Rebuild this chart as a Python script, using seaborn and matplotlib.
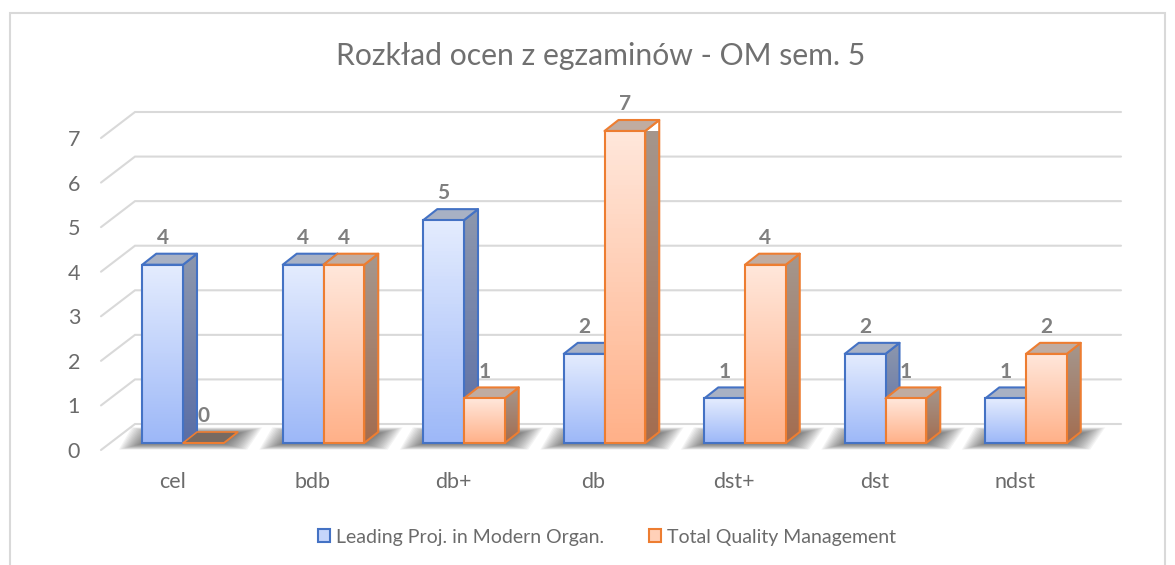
import numpy as np
import pandas as pd
import seaborn as sns
import matplotlib
matplotlib.use("Agg")
import matplotlib.pyplot as plt
from matplotlib.colors import LinearSegmentedColormap
from matplotlib.patches import Patch, Polygon, Rectangle
from matplotlib.transforms import ScaledTranslation

categories = ['cel', 'bdb', 'db+', 'db', 'dst+', 'dst', 'ndst']
series_names = ['Leading Proj. in Modern Organ.', 'Total Quality Management']
leading_vals = [4, 4, 5, 2, 1, 2, 1]
quality_vals = [0, 4, 1, 7, 4, 1, 2]
y_ticks = [0, 1, 2, 3, 4, 5, 6, 7]

W, H = 1175, 565
PX_X = 1 / 140.5   # data units per pixel
PX_Y = 7 / 312
DEPTH_X, DEPTH_Y = 14 * PX_X, 11 * PX_Y

styles = [
    dict(edge='#4472c4', front=('#e4ecfe', '#9db8f8'), side=('#8d97ad', '#5a6ea6'), top='#a8b1c4', zero='#6f6a70'),
    dict(edge='#ed7d31', front=('#ffe7db', '#ffb189'), side=('#a5978e', '#a36d50'), top='#c0aca1', zero='#776a62'),
]

sns.set_theme(style='white')
plt.rcParams['font.family'] = ['Lato', 'DejaVu Sans']

df = pd.DataFrame({
    'cat': categories * 2,
    'val': leading_vals + quality_vals,
    'series': [series_names[0]] * 7 + [series_names[1]] * 7,
})

fig = plt.figure(figsize=(W / 100, H / 100), dpi=100)
ax = fig.add_axes([101 / W, (H - 443) / H, 1020 / W, 312 / H])
sns.barplot(data=df, x='cat', y='val', hue='series', hue_order=series_names, order=categories,
            width=0.58, gap=0, ax=ax, legend=False, palette=['#c5d5fb', '#ffd0b8'])

x_left, x_right = -82 * PX_X, 938 * PX_X
ax.set_xlim(x_left, x_right)
ax.set_ylim(0, 7)
ax.patch.set_alpha(0)
sns.despine(ax=ax, left=True, bottom=True)
ax.set_xlabel('')
ax.set_ylabel('')

# outer chart frame
fig.add_artist(Rectangle((9.5 / W, -0.02), 1155 / W, (H - 13) / H + 0.02, transform=fig.transFigure,
                         fill=False, ec='#d9d9d9', lw=1.5))

# walls: gridlines go from the front floor edge to the back and across
for v in y_ticks:
    ax.plot([x_left, x_left + 34 * PX_X, x_right],
            [v - 7 * PX_Y, v + 19 * PX_Y, v + 19 * PX_Y],
            color='#d9d9d9', lw=1.5, clip_on=False, zorder=1, solid_joinstyle='miter')


def gradient(colors, extent, clip, z):
    cmap = LinearSegmentedColormap.from_list('g', colors)
    im = ax.imshow(np.linspace(0, 1, 64).reshape(-1, 1), cmap=cmap, aspect='auto', extent=extent,
                   origin='upper', zorder=z)
    im.set_clip_path(clip)


# soft shadow on the floor, layered polygons to fake the blur
for i in range(len(categories)):
    x0 = ax.containers[0][i].get_x()
    x1 = ax.containers[1][i].get_x() + ax.containers[1][i].get_width()
    for k in range(16):
        g = (15 - k) * 1.5
        ax.add_patch(Polygon([(x0 - (1 + g) * PX_X, (-1 - g * 0.25) * PX_Y),
                              (x1 + (1 + g) * PX_X, (-1 - g * 0.25) * PX_Y),
                              (x1 + (16 + g) * PX_X, (10 + g * 0.25) * PX_Y),
                              (x0 + (12 - g) * PX_X, (10 + g * 0.25) * PX_Y)],
                             fc='#404040', ec='none', alpha=0.06, zorder=2, clip_on=False))

# front faces come from seaborn's bars, depth and gradients are added around them
for s, cont in enumerate(ax.containers):
    st = styles[s]
    for i, bar in enumerate(cont):
        z = 3 + i * 2 + s * 1.0 + 0.5 * s
        x0, w, h = bar.get_x(), bar.get_width(), bar.get_height()
        x1 = x0 + w
        side = Polygon([(x1, 0), (x1 + DEPTH_X, DEPTH_Y), (x1 + DEPTH_X, h + DEPTH_Y), (x1, h)],
                       fc='none', ec=st['edge'], lw=1.5, zorder=z + 0.2, clip_on=False, joinstyle='round')
        top = Polygon([(x0, h), (x0 + DEPTH_X, h + DEPTH_Y), (x1 + DEPTH_X, h + DEPTH_Y), (x1, h)],
                      fc=st['top'] if h > 0 else st['zero'], ec=st['edge'], lw=1.5 if h > 0 else 1.2,
                      zorder=z + 0.2, clip_on=False, joinstyle='round')
        ax.add_patch(side)
        ax.add_patch(top)
        if h > 0:
            gradient(st['side'], (x1, x1 + DEPTH_X, 0, h + DEPTH_Y), side, z + 0.1)
            gradient(st['front'], (x0, x1, 0, h), bar, z + 0.3)
        bar.set_facecolor('none')
        bar.set_edgecolor(st['edge'])
        bar.set_linewidth(1.5)
        bar.set_zorder(z + 0.4)
        bar.set_clip_on(False)
    labels = ax.bar_label(cont, padding=12, fontsize=15, fontweight='bold', color='#7f7f7f')
    for t in labels:
        t.set_zorder(30)

ax.set_xlim(x_left, x_right)
ax.set_ylim(0, 7)

# tick labels sit in front of the floor, so shift them off the bar scale
ax.set_yticks(y_ticks)
ax.set_xticks(range(len(categories)))
ax.set_xticklabels(categories)
ax.tick_params(axis='both', length=0, labelsize=15.5, labelcolor='#6b6b6b')
ax.tick_params(axis='y', pad=15)
ax.tick_params(axis='x', pad=21)
for lab in ax.get_yticklabels():
    lab.set_transform(lab.get_transform() + ScaledTranslation(0, -7 / 100, fig.dpi_scale_trans))
for lab in ax.get_xticklabels():
    lab.set_transform(lab.get_transform() + ScaledTranslation(-11 / 100, 0, fig.dpi_scale_trans))

fig.text(601 / W, 1 - 56 / H, 'Rozkład ocen z egzaminów - OM sem. 5', ha='center', va='center',
         fontsize=21.7, color='#707070')

handles = [Patch(fc='#c5d5fb', ec=styles[0]['edge'], lw=1.5),
           Patch(fc='#ffd0b8', ec=styles[1]['edge'], lw=1.5)]
fig.legend(handles, series_names, loc='center', bbox_to_anchor=(607 / W, 1 - 537 / H), ncol=2, frameon=False,
           fontsize=14, labelcolor='#6b6b6b', handlelength=0.64, handleheight=0.64, handletextpad=0.3,
           columnspacing=2.3)

fig.savefig('out.png', dpi=100)
